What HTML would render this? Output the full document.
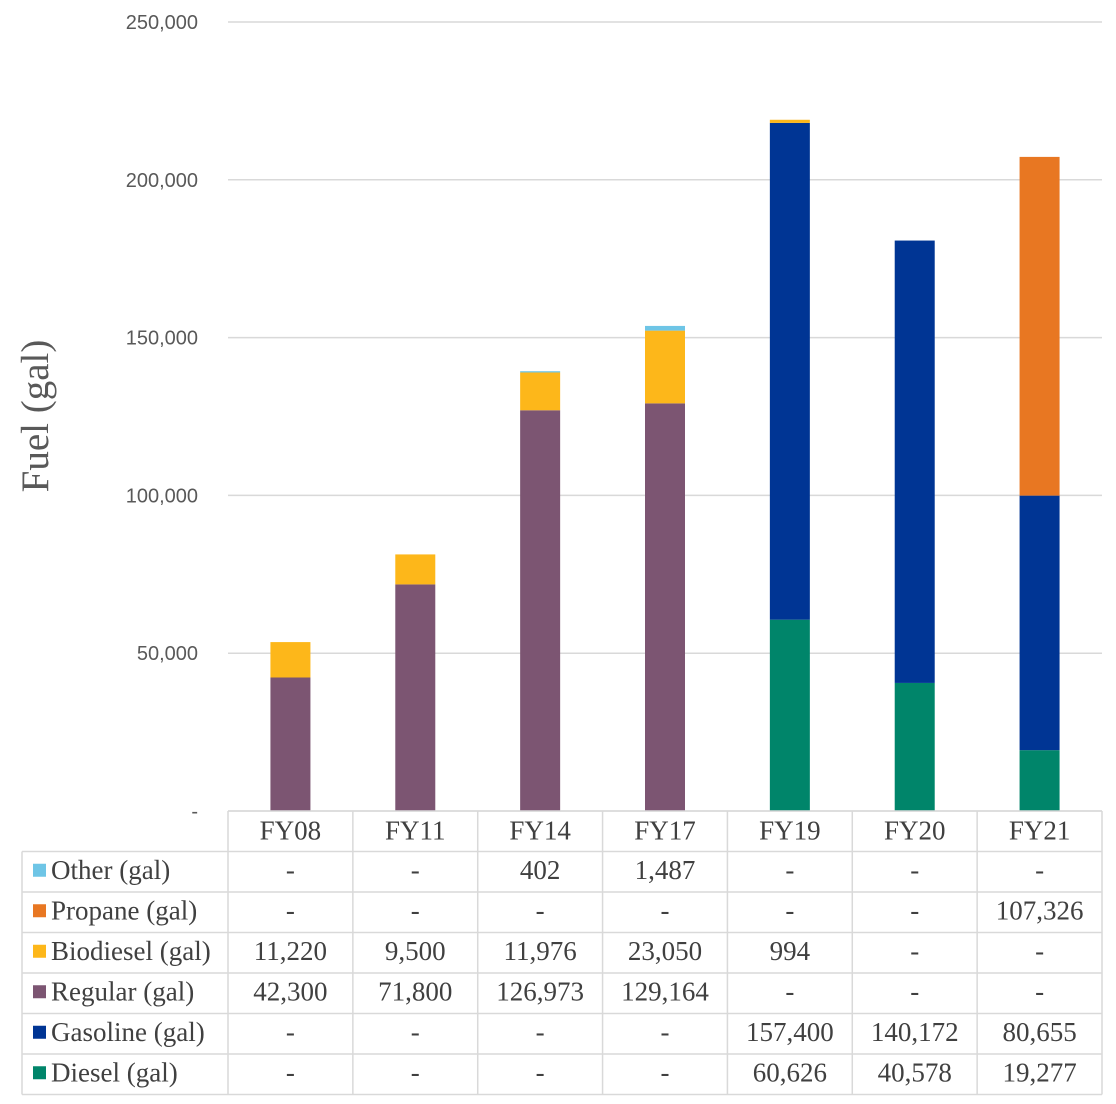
<!DOCTYPE html>
<html><head><meta charset="utf-8"><style>
body{margin:0;background:#fff;width:1116px;height:1104px;overflow:hidden}
svg{display:block}
.tick{font-family:"Liberation Sans",sans-serif;font-size:20px;fill:#595959}
.tb{font-family:"Liberation Serif",serif;font-size:27px;fill:#404040}
</style></head><body>
<svg id="chart" width="1116" height="1104"></svg>
<script>
const categories=["FY08","FY11","FY14","FY17","FY19","FY20","FY21"];
const seriesNames=["Other (gal)","Propane (gal)","Biodiesel (gal)","Regular (gal)","Gasoline (gal)","Diesel (gal)"];
const other=[0,0,402,1487,0,0,0];
const propane=[0,0,0,0,0,0,107326];
const biodiesel=[11220,9500,11976,23050,994,0,0];
const regular=[42300,71800,126973,129164,0,0,0];
const gasoline=[0,0,0,0,157400,140172,80655];
const diesel=[0,0,0,0,60626,40578,19277];
const ticks=[0,50000,100000,150000,200000,250000];
const colors=["#6EC5E6","#E87722","#FDB71A","#7C5572","#003594","#00856A"];
const seriesData=[other,propane,biodiesel,regular,gasoline,diesel];

const NS="http://www.w3.org/2000/svg";
const svg=document.getElementById("chart");
const X0=228,X1=1102,Y0=811,Y1=22,MAX=250000;
const colW=(X1-X0)/categories.length;
const y=v=>Y0-(v/MAX)*(Y0-Y1);
const xc=i=>X0+colW*(i+0.5);
function el(t,a,txt){const e=document.createElementNS(NS,t);for(const k in a)e.setAttribute(k,a[k]);if(txt!==undefined)e.textContent=txt;svg.appendChild(e);return e;}
ticks.forEach(t=>{
  const g=el("line",{x1:X0,x2:X1,y1:y(t),y2:y(t),stroke:"#d9d9d9","stroke-width":1.5});
  
  
  const lab=el("text",{x:198,y:y(t)+7,"text-anchor":"end",class:"tick"},t===0?"-":t.toLocaleString("en-US"));
  
  
});
const yt=el("text",{x:0,y:0,transform:"translate(48,416) rotate(-90)","text-anchor":"middle","font-family":"Liberation Serif, serif","font-size":"39",fill:"#595959"},"Fuel (gal)");


const order=[5,4,3,2,1,0];
categories.forEach((c,i)=>{
  let base=0;
  order.forEach(s=>{
    const v=seriesData[s][i];
    if(v>0){
      const r=el("rect",{x:xc(i)-20,width:40,y:y(base+v),height:y(base)-y(base+v),fill:colors[s]});
      
      
    }
    base+=v;
  });
});
const RH=40.5,TL=22;
const rows=seriesNames.length+1;
const tableBottom=Y0+RH*rows;
for(let r=0;r<=rows;r++){
  const yy=Y0+RH*r;
  const l=el("line",{x1:r===0?X0:TL,x2:X1,y1:yy,y2:yy,stroke:"#d9d9d9","stroke-width":1.5});
  
  
}
for(let k=0;k<=categories.length;k++){
  const xx=X0+colW*k;
  const l=el("line",{x1:xx,x2:xx,y1:Y0,y2:tableBottom,stroke:"#d9d9d9","stroke-width":1.5});
  
  
}
const ll=el("line",{x1:TL,x2:TL,y1:Y0+RH,y2:tableBottom,stroke:"#d9d9d9","stroke-width":1.5});


categories.forEach((c,i)=>{
  const t=el("text",{x:xc(i),y:Y0+RH/2+8,"text-anchor":"middle",class:"tb"},c);
  
  
});
seriesNames.forEach((n,s)=>{
  const cy=Y0+RH*(s+1)+RH/2;
  const k=el("rect",{x:33,y:cy-8,width:13,height:13,fill:colors[s]});
  
  
  const t=el("text",{x:51,y:cy+7,class:"tb"},n);
  
  
  categories.forEach((c,i)=>{
    const v=seriesData[s][i];
    const tv=el("text",{x:xc(i),y:cy+7,"text-anchor":"middle",class:"tb"},v===0?"-":v.toLocaleString("en-US"));
    
    
  });
});
</script>
</body></html>
